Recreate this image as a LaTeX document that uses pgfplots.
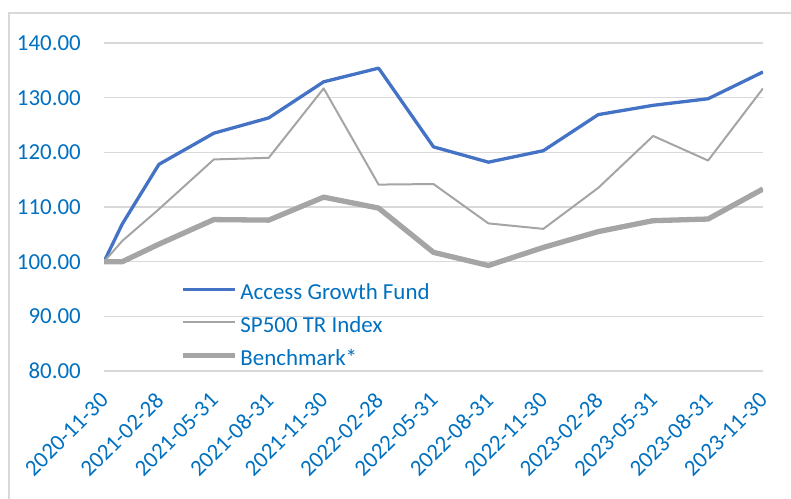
\documentclass[border=0pt]{standalone}
\usepackage{fontspec}
\setmainfont{Carlito}
\usepackage{pgfplots}
\pgfplotsset{compat=1.18}
\definecolor{txt}{HTML}{0070C0}
\definecolor{fund}{HTML}{4472C4}
\definecolor{idx}{HTML}{A5A5A5}
\definecolor{gridc}{HTML}{D9D9D9}
\begin{document}
\begin{tikzpicture}
\useasboundingbox (0bp,0bp) rectangle (791bp,499bp);
\draw[gridc, line width=1.2bp] (9bp,0bp) -- (9bp,486bp) -- (791bp,486bp);
\begin{axis}[
  at={(104bp,128bp)}, anchor=south west, scale only axis,
  width=659bp, height=328bp,
  xmin=0, xmax=36, ymin=80, ymax=140,
  xtick={0,3,...,36},
  xticklabels={2020-11-30,2021-02-28,2021-05-31,2021-08-31,2021-11-30,2022-02-28,2022-05-31,2022-08-31,2022-11-30,2023-02-28,2023-05-31,2023-08-31,2023-11-30},
  ytick={80,90,...,140},
  ymajorgrids, grid style={gridc, line width=1.2bp},
  axis line style={draw=none}, major tick length=0pt,
  /pgf/number format/assume math mode=true,
  tick label style={font=\fontsize{23}{27}\selectfont, text=txt},
  yticklabel style={inner sep=0pt, xshift=-23bp, /pgf/number format/fixed, /pgf/number format/fixed zerofill, /pgf/number format/precision=2},
  xticklabel style={inner sep=0pt, xshift=-5bp, yshift=-20bp, rotate=45, anchor=north east},
  legend cell align=left,
  legend image code/.code={\draw[#1, line cap=butt] (0bp,5bp) -- (52bp,5bp);},
  legend style={draw=none, fill=none, at={(0.1155,0.266)}, anchor=north west,
    inner sep=0pt, outer sep=0pt, row sep=12bp,
    font=\fontsize{23}{27}\selectfont, text=txt,
    nodes={inner sep=0pt, text height=16bp, text depth=5bp},
    /tikz/every odd column/.append style={column sep=3bp}},
]
\addplot[fund, line width=3.3bp, line join=round] coordinates {
(0,100) (1,106.9) (3,117.8) (6,123.5) (9,126.3) (12,132.9) (15,135.4)
(18,121.0) (21,118.2) (24,120.3) (27,126.9) (30,128.6) (33,129.8) (36,134.7)};
\addlegendentry{Access Growth Fund}
\addplot[idx, line width=2bp, line join=round] coordinates {
(0,100) (1,103.8) (3,109.6) (6,118.7) (9,119.0) (12,131.7) (15,114.1)
(18,114.2) (21,107.0) (24,106.0) (27,113.5) (30,123.0) (33,118.5) (36,131.7)};
\addlegendentry{SP500 TR Index}
\addplot[idx, line width=5.3bp, line join=round] coordinates {
(0,100) (1,100.0) (3,103.2) (6,107.7) (9,107.6) (12,111.8) (15,109.8)
(18,101.7) (21,99.3) (24,102.6) (27,105.5) (30,107.5) (33,107.8) (36,113.3)};
\addlegendentry{Benchmark*}
\end{axis}
\end{tikzpicture}
\end{document}
